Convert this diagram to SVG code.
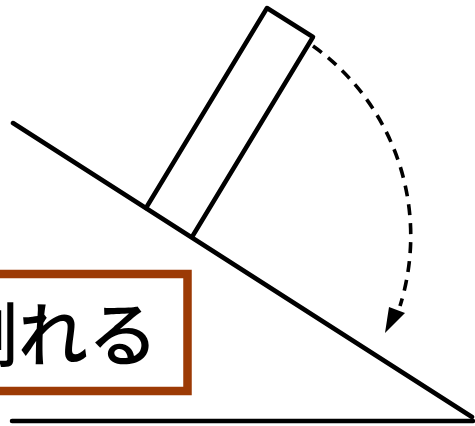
<svg xmlns="http://www.w3.org/2000/svg" width="475" height="426" viewBox="0 0 475 426">
<style>
.ln{fill:none;stroke:#000;stroke-width:4.5;stroke-linecap:round;stroke-linejoin:round}
.dash{fill:none;stroke:#000;stroke-width:3.6;stroke-dasharray:11 8}
.lbl{font-family:"Noto Sans CJK JP","Noto Sans",sans-serif;font-size:70px;font-weight:500;fill:#000}
</style>
<rect width="475" height="426" fill="#fff"/>
<g id="ground">
<line class="ln" x1="12" y1="421" x2="473" y2="421"/>
<line class="ln" x1="13" y1="123" x2="472" y2="417"/>
</g>
<g id="block">
<polyline class="ln" points="146,208 267,8 313,37 192,237"/>
</g>
<g id="connectors">
<path class="dash" d="M 313 46 A 233.5 233.5 0 0 1 400 306"/>
<polygon points="385,333 389,307 405,313" fill="#000"/>
</g>
<g id="label">
<rect x="-10" y="274" width="197.5" height="117" fill="#fff" stroke="#9c3a05" stroke-width="8.5"/>
<text class="lbl" x="158" y="361" text-anchor="end">倒れる</text>
</g>
</svg>
